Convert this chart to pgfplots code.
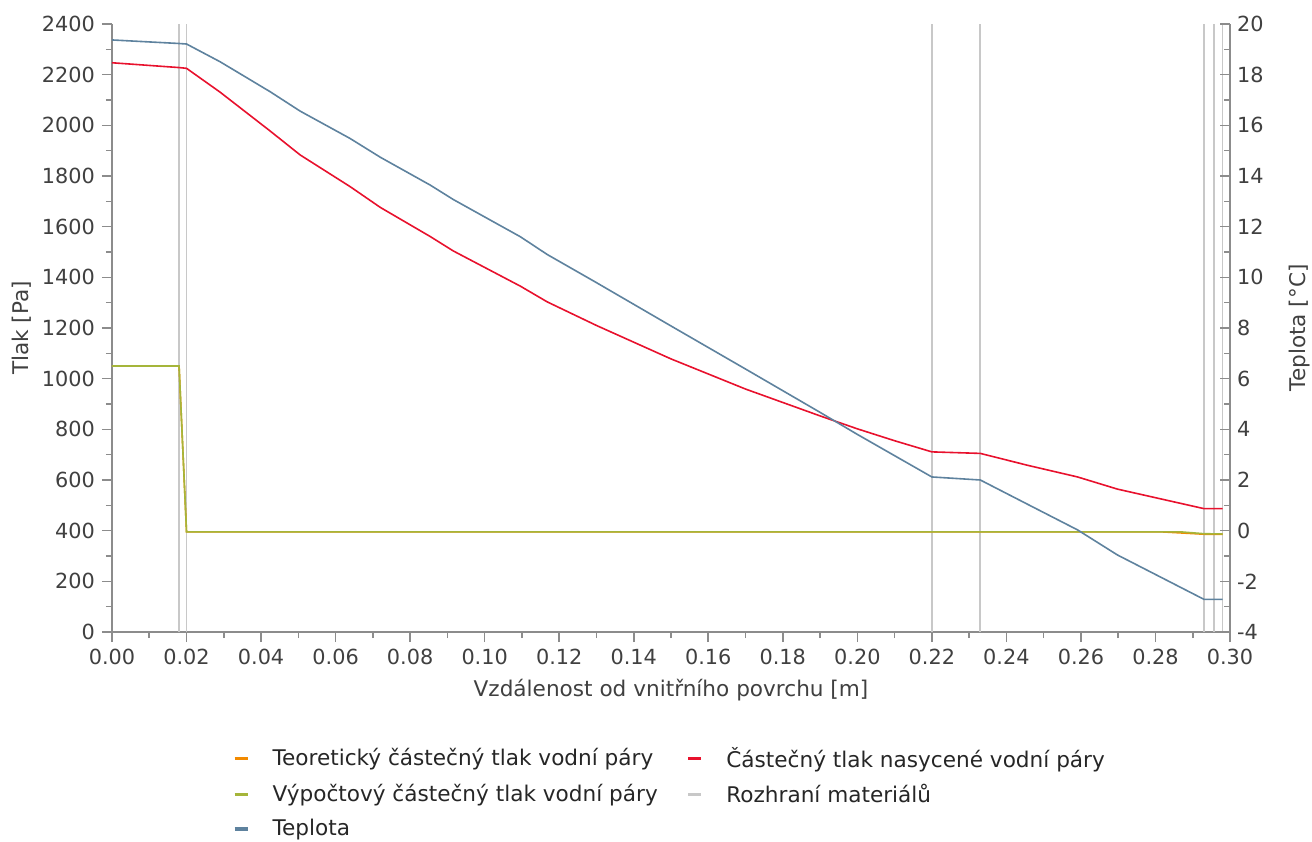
\documentclass[border=0pt]{standalone}
\usepackage{fontspec}
\setmainfont{DejaVu Sans}
\usepackage{pgfplots}
\pgfplotsset{compat=1.18}
\definecolor{cOrange}{HTML}{F28A00}
\definecolor{cRed}{HTML}{E8112D}
\definecolor{cGreen}{HTML}{A5B53A}
\definecolor{cBlue}{HTML}{5E829E}
\definecolor{cGrey}{HTML}{C8C8C8}
\definecolor{cAxis}{HTML}{8C8C8C}
\definecolor{cText}{HTML}{404040}
\pgfplotsset{
  common/.style={
    scale only axis, width=559pt, height=304pt,
    xmin=0, xmax=0.30,
    axis line style={cAxis, line width=1pt},
    tick style={cAxis, line width=0.8pt},
    major tick length=5pt, minor tick length=3pt,
    ticklabel style={text=cText},
    /pgf/number format/assume math mode=true,
    /pgf/number format/1000 sep={},
  },
  legimg/.style={legend image code/.code={
      \draw[line width=1.6pt] (0pt,0pt) -- (6.5pt,0pt);
      \path[draw=none] (0pt,0pt) -- (17pt,0pt);}},
}
\begin{document}
\begin{tikzpicture}[font=\fontsize{10.4}{12.5}\selectfont]
\begin{axis}[common,
  axis x line*=bottom, axis y line*=left,
  tick align=outside,
  ymin=0, ymax=2400,
  xtick={0,0.02,0.04,0.06,0.08,0.10,0.12,0.14,0.16,0.18,0.20,0.22,0.24,0.26,0.28,0.30},
  minor x tick num=1,
  ytick={0,200,400,600,800,1000,1200,1400,1600,1800,2000,2200,2400},
  minor y tick num=1,
  xticklabel style={/pgf/number format/.cd, fixed, fixed zerofill, precision=2},
  every axis x label/.style={at={(axis description cs:0.5,-0.0954)}, anchor=center, text=cText, font=\fontsize{10.8}{13}\selectfont},
  every axis y label/.style={at={(axis description cs:-0.0805,0.5)}, rotate=90, anchor=center, text=cText, font=\fontsize{10.8}{13}\selectfont},
  xlabel={Vzdálenost od vnitřního povrchu [m]},
  ylabel={Tlak [Pa]},
  unbounded coords=jump,
  legend columns=2,
  legend cell align=left,
  legend style={draw=none, fill=none, inner sep=0pt, outer sep=0pt,
    at={(axis description cs:0.1082,-0.1825)}, anchor=north west,
    text=black!85, row sep=3.0pt, font=\fontsize{10.8}{13}\selectfont,
    /tikz/every even column/.append style={column sep=12.5pt}},
]
% material interfaces
\addplot[cGrey, line width=0.9pt, forget plot] coordinates {
  (0.018,0) (0.018,2400) (0.018,nan)
  (0.020,0) (0.020,2400) (0.020,nan)
  (0.220,0) (0.220,2400) (0.220,nan)
  (0.233,0) (0.233,2400) (0.233,nan)
  (0.293,0) (0.293,2400) (0.293,nan)
  (0.2957,0) (0.2957,2400) (0.2957,nan)
  (0.298,0) (0.298,2400)
};
% theoretical partial pressure
\addplot[cOrange, line width=0.8pt, forget plot] coordinates {
  (0,1050) (0.018,1050) (0.020,395) (0.282,395) (0.293,386) (0.298,386)
};
% saturated pressure
\addplot[cRed, line width=0.8pt, forget plot] coordinates {
  (0,2247) (0.018,2228) (0.020,2225) (0.029,2131) (0.0424,1978)
  (0.0505,1883) (0.0639,1758) (0.072,1676) (0.0854,1561) (0.0916,1504)
  (0.1096,1365) (0.1168,1303) (0.130,1210) (0.150,1078) (0.170,959)
  (0.190,853) (0.200,802) (0.210,755) (0.220,711) (0.233,705)
  (0.2457,658) (0.2591,612) (0.2698,564) (0.293,487) (0.2957,487) (0.298,487)
};
% calculated partial pressure
\addplot[cGreen, line width=0.8pt, forget plot] coordinates {
  (0,1050) (0.018,1050) (0.020,395) (0.287,395) (0.293,388) (0.298,387)
};
\addlegendimage{cOrange, legimg}
\addlegendentry{Teoretický částečný tlak vodní páry}
\addlegendimage{cRed, legimg}
\addlegendentry{Částečný tlak nasycené vodní páry}
\addlegendimage{cGreen, legimg}
\addlegendentry{Výpočtový částečný tlak vodní páry}
\addlegendimage{cGrey, legimg}
\addlegendentry{Rozhraní materiálů}
\addlegendimage{cBlue, legimg}
\addlegendentry{Teplota}
\end{axis}
\begin{axis}[common,
  axis x line=none, axis y line*=right,
  tick align=inside,
  ymin=-4, ymax=20,
  ytick={-4,-2,0,2,4,6,8,10,12,14,16,18,20},
  minor y tick num=1,
  every axis y label/.style={at={(axis description cs:1.0626,0.5)}, rotate=90, anchor=center, text=cText, font=\fontsize{10.8}{13}\selectfont},
  ylabel={Teplota [°C]},
]
\addplot[cBlue, line width=0.8pt] coordinates {
  (0,19.37) (0.018,19.23) (0.020,19.21) (0.029,18.51) (0.0424,17.33)
  (0.0505,16.56) (0.0639,15.48) (0.072,14.74) (0.0854,13.64) (0.0916,13.07)
  (0.1096,11.60) (0.1168,10.90) (0.130,9.79) (0.150,8.08) (0.170,6.38)
  (0.190,4.67) (0.200,3.80) (0.210,2.96) (0.220,2.12) (0.233,2.00)
  (0.2457,1.04) (0.2591,0.03) (0.2698,-0.96) (0.293,-2.71) (0.2957,-2.71) (0.298,-2.71)
};
\end{axis}
\pgfresetboundingbox
\path (-56pt,-104.5pt) rectangle (600pt,316pt);
\end{tikzpicture}
\end{document}
